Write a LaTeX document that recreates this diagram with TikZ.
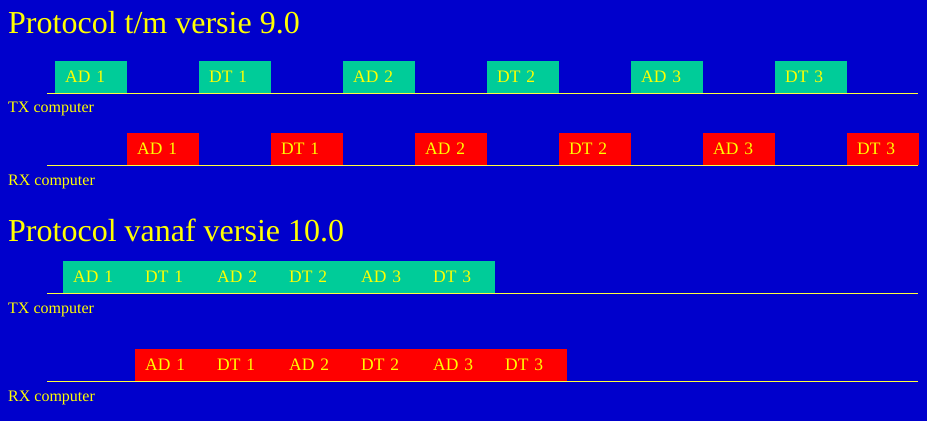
\documentclass[tikz,border=0pt]{standalone}
\usepackage{fontspec}
\setmainfont{Liberation Serif}
\definecolor{bgblue}{RGB}{0,0,204}
\definecolor{txgreen}{RGB}{0,204,153}
\definecolor{rxred}{RGB}{255,0,0}
\definecolor{txtyellow}{RGB}{255,255,0}
\definecolor{lineyellow}{RGB}{255,255,60}
\tikzset{
  pkt/.style={rectangle,anchor=south west,inner xsep=10pt,inner ysep=0pt,
    text width=52pt,align=left,text height=22pt,text depth=10pt,
    text=txtyellow,font=\fontsize{17.5}{20}\selectfont},
  txpkt/.style={pkt,fill=txgreen},
  rxpkt/.style={pkt,fill=rxred},
  timeline/.style={draw=lineyellow,line width=1pt},
  hostlabel/.style={anchor=base west,inner sep=0pt,text=txtyellow,font=\fontsize{16}{19}\selectfont},
  heading/.style={anchor=base west,inner sep=0pt,text=txtyellow,font=\fontsize{32}{38}\selectfont}
}
\begin{document}
\begin{tikzpicture}[x=1pt,y=-1pt]
\fill[bgblue] (0,0) rectangle (927,421);
\useasboundingbox (0,0) rectangle (927,421);
\node[heading] (titleold) at (8,33) {Protocol t/m versie 9.0};
\node[txpkt] (oldtxad1) at (55,93) {AD 1};
\node[txpkt] (oldtxdt1) at (199,93) {DT 1};
\node[txpkt] (oldtxad2) at (343,93) {AD 2};
\node[txpkt] (oldtxdt2) at (487,93) {DT 2};
\node[txpkt] (oldtxad3) at (631,93) {AD 3};
\node[txpkt] (oldtxdt3) at (775,93) {DT 3};
\draw[timeline] (47,93) -- (918,93);
\node[hostlabel] (oldtx) at (8,112) {TX computer};
\node[rxpkt] (oldrxad1) at (127,165) {AD 1};
\node[rxpkt] (oldrxdt1) at (271,165) {DT 1};
\node[rxpkt] (oldrxad2) at (415,165) {AD 2};
\node[rxpkt] (oldrxdt2) at (559,165) {DT 2};
\node[rxpkt] (oldrxad3) at (703,165) {AD 3};
\node[rxpkt] (oldrxdt3) at (847,165) {DT 3};
\draw[timeline] (47,165) -- (918,165);
\node[hostlabel] (oldrx) at (8,185) {RX computer};
\node[heading] (titlenew) at (8,241) {Protocol vanaf versie 10.0};
\node[txpkt] (newtxad1) at (63,293) {AD 1};
\node[txpkt] (newtxdt1) at (135,293) {DT 1};
\node[txpkt] (newtxad2) at (207,293) {AD 2};
\node[txpkt] (newtxdt2) at (279,293) {DT 2};
\node[txpkt] (newtxad3) at (351,293) {AD 3};
\node[txpkt] (newtxdt3) at (423,293) {DT 3};
\draw[timeline] (47,293) -- (918,293);
\node[hostlabel] (newtx) at (8,313) {TX computer};
\node[rxpkt] (newrxad1) at (135,381) {AD 1};
\node[rxpkt] (newrxdt1) at (207,381) {DT 1};
\node[rxpkt] (newrxad2) at (279,381) {AD 2};
\node[rxpkt] (newrxdt2) at (351,381) {DT 2};
\node[rxpkt] (newrxad3) at (423,381) {AD 3};
\node[rxpkt] (newrxdt3) at (495,381) {DT 3};
\draw[timeline] (47,381) -- (918,381);
\node[hostlabel] (newrx) at (8,401) {RX computer};
\end{tikzpicture}
\end{document}
